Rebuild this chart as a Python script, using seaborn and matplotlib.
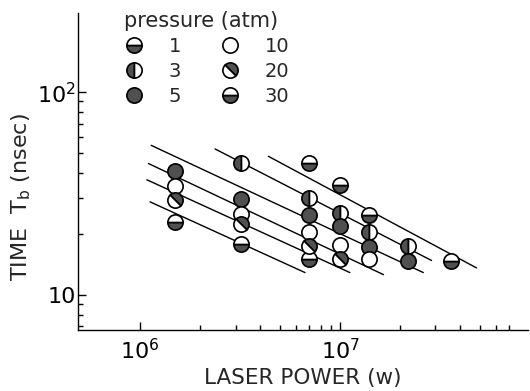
import numpy as np
import pandas as pd
import matplotlib
matplotlib.use("Agg")
import matplotlib.pyplot as plt
from matplotlib.markers import MarkerStyle
from matplotlib.transforms import Affine2D
from matplotlib.lines import Line2D
from matplotlib.ticker import FixedLocator, FixedFormatter, NullFormatter
import seaborn as sns

sns.set_style("ticks")
plt.rcParams['font.family'] = ['DejaVu Sans']
plt.rcParams['mathtext.fontset'] = 'dejavusans'

# ── data ────────────────────────────────────────────────────
pressures = [1, 3, 5, 10, 20, 30]

power_1atm = [1.5e6, 3.2e6, 7e6]
time_1atm = [23.0, 17.8, 15.0]
power_3atm = [3.2e6, 7e6, 1e7, 1.4e7, 2.2e7]
time_3atm = [44.7, 30.1, 25.4, 20.4, 17.4]
power_5atm = [1.5e6, 3.2e6, 7e6, 1e7, 1.4e7, 2.2e7]
time_5atm = [40.7, 29.9, 24.9, 21.8, 17.2, 14.7]
power_10atm = [1.5e6, 3.2e6, 7e6, 1e7, 1.4e7]
time_10atm = [34.4, 25.1, 20.4, 17.6, 15.0]
power_20atm = [1.5e6, 3.2e6, 7e6, 1e7]
time_20atm = [29.5, 22.3, 17.4, 15.1]
power_30atm = [7e6, 1e7, 1.4e7, 3.6e7]
time_30atm = [44.7, 35.0, 24.9, 14.7]

# drawn fit lines, one per pressure: start / end
fit_power_start = [1.12e6, 2.37e6, 1.135e6, 1.10e6, 1.08e6, 4.38e6]
fit_power_end = [6.68e6, 2.87e7, 2.61e7, 1.65e7, 1.12e7, 4.82e7]
fit_time_start = [28.8, 52.5, 54.7, 44.5, 37.0, 48.3]
fit_time_end = [12.9, 14.8, 12.9, 12.6, 12.9, 13.6]

x_major = [1e6, 1e7]
x_major_labels = ["$10^6$", "$10^7$"]
x_minor = [2e6, 3e6, 4e6, 5e6, 6e6, 7e6, 8e6, 9e6, 2e7, 3e7, 4e7, 5e7, 6e7, 7e7]
y_major = [10, 100]
y_major_labels = ["10", "$10^2$"]
y_minor = [7, 8, 9, 20, 30, 40, 50, 60, 70, 80, 90]

all_power = [power_1atm, power_3atm, power_5atm, power_10atm, power_20atm, power_30atm]
all_time = [time_1atm, time_3atm, time_5atm, time_10atm, time_20atm, time_30atm]
df = pd.concat([pd.DataFrame({"pressure": p, "power": x, "time": t})
                for p, x, t in zip(pressures, all_power, all_time)], ignore_index=True)

# ── marker styles ───────────────────────────────────────────
dark = "#505050"
half_h = dict(marker="o", fillstyle="bottom", markerfacecolor=dark, markerfacecoloralt="white")
marker_styles = {
    1: half_h,
    3: dict(marker="o", fillstyle="left", markerfacecolor=dark, markerfacecoloralt="white"),
    5: dict(marker="o", fillstyle="full", markerfacecolor=dark),
    10: dict(marker="o", fillstyle="full", markerfacecolor="white"),
    20: dict(marker=MarkerStyle("o", "top", Affine2D().rotate_deg(-45)),
             markerfacecolor=dark, markerfacecoloralt="white"),
    30: half_h,
}
msize = 11
medge = 1.2

# ── plot ────────────────────────────────────────────────────
fig = plt.figure(figsize=(5.3, 3.91), dpi=100)
ax = fig.add_axes([0.148, 0.156, 0.848, 0.810])
ax.set_xscale("log")
ax.set_yscale("log")

for i in range(len(pressures)):
    sns.lineplot(x=[fit_power_start[i], fit_power_end[i]],
                 y=[fit_time_start[i], fit_time_end[i]],
                 color="black", lw=1.0, ax=ax, zorder=2)

for p in pressures:
    sub = df[df["pressure"] == p]
    sns.lineplot(data=sub, x="power", y="time", ax=ax, linestyle="",
                 markersize=msize, markeredgecolor="black", markeredgewidth=medge,
                 color="black", errorbar=None, zorder=3, **marker_styles[p])

ax.set_xlim(4.91e5, 8.71e7)
ax.set_ylim(6.72, 245)

ax.xaxis.set_major_locator(FixedLocator(x_major))
ax.xaxis.set_major_formatter(FixedFormatter(x_major_labels))
ax.xaxis.set_minor_locator(FixedLocator(x_minor))
ax.xaxis.set_minor_formatter(NullFormatter())
ax.yaxis.set_major_locator(FixedLocator(y_major))
ax.yaxis.set_major_formatter(FixedFormatter(y_major_labels))
ax.yaxis.set_minor_locator(FixedLocator(y_minor))
ax.yaxis.set_minor_formatter(NullFormatter())

ax.tick_params(which="both", direction="in", width=1.0, colors="black")
ax.tick_params(which="major", length=5.5)
ax.tick_params(which="minor", length=3.5)
ax.tick_params(axis="x", which="major", labelsize=16, pad=6)
ax.tick_params(axis="y", which="major", labelsize=16, pad=2)

sns.despine(ax=ax)
for s in ["left", "bottom"]:
    ax.spines[s].set_linewidth(1.0)
    ax.spines[s].set_color("black")

ax.set_xlabel("LASER POWER (w)", fontsize=15.5, labelpad=3)
ax.set_ylabel("TIME  T$_{\\mathrm{b}}$ (nsec)", fontsize=16)
ax.yaxis.set_label_coords(-0.1007, 0.42)

handles = [Line2D([], [], linestyle="", markersize=msize, markeredgecolor="black",
                  markeredgewidth=medge, **marker_styles[p]) for p in pressures]
ax.legend(handles, [str(p) for p in pressures], ncol=2, title="pressure (atm)",
          frameon=False, fontsize=14, title_fontsize=15, loc="upper left",
          bbox_to_anchor=(124 / 530, 1 - 11 / 391), bbox_transform=fig.transFigure,
          borderpad=0, borderaxespad=0, handlelength=1.0, handletextpad=1.3,
          columnspacing=2.0, labelspacing=0.3, alignment="left")

fig.savefig("out.png", dpi=100)
